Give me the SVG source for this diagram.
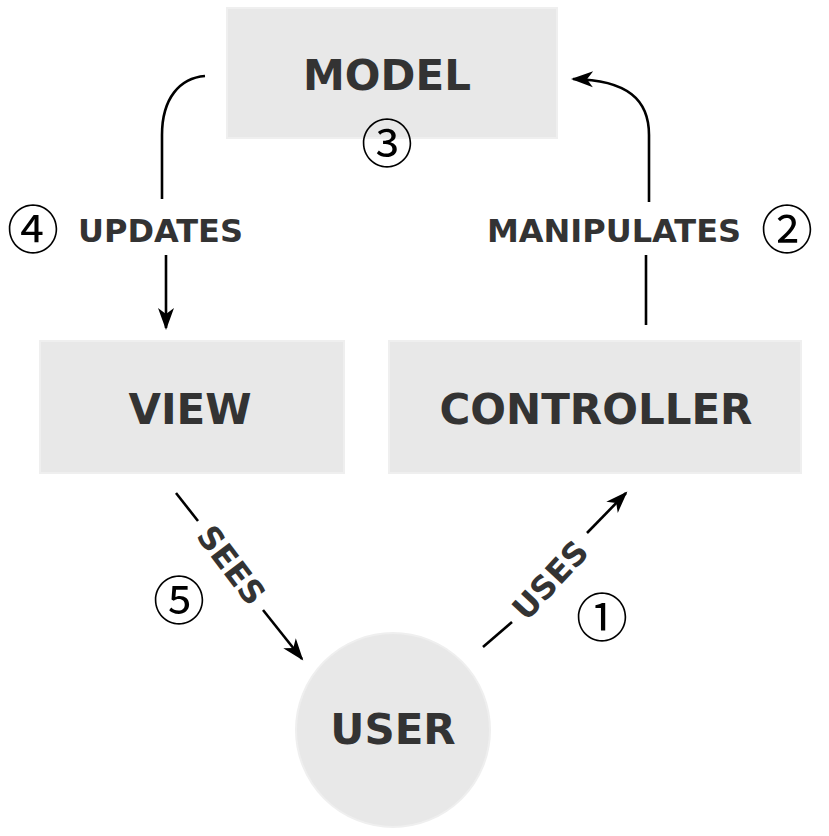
<svg xmlns="http://www.w3.org/2000/svg" width="829" height="836" viewBox="0 0 829 836">
<style>
.box{fill:#e8e8e8;stroke:#efefef;stroke-width:2}
.big{font-family:"DejaVu Sans","Liberation Sans",sans-serif;font-weight:bold;font-size:42px;fill:#333;text-anchor:middle}
.lbl{font-family:"DejaVu Sans","Liberation Sans",sans-serif;font-weight:bold;font-size:32px;fill:#333;text-anchor:middle}
.num{font-family:"Noto Sans CJK JP","Noto Sans CJK SC",sans-serif;font-size:52px;fill:#000;text-anchor:middle}
.ln{fill:none;stroke:#000;stroke-width:2.6}
</style>
<defs>
<marker id="ah" markerUnits="userSpaceOnUse" viewBox="-23 -9 25 18" markerWidth="25" markerHeight="18" refX="-2" refY="0" orient="auto">
<path d="M0,0 L-22,-8 L-16,0 L-22,8 Z" fill="#000"/>
</marker>
</defs>
<rect width="829" height="836" fill="#fff"/>
<g id="model">
<rect class="box" x="227" y="8" width="330" height="130"/>
<text class="big" x="387" y="90">MODEL</text>
<text class="num" x="387" y="163">③</text>
</g>
<g id="view">
<rect class="box" x="40" y="341" width="304" height="132"/>
<text class="big" x="190" y="424">VIEW</text>
</g>
<g id="controller">
<rect class="box" x="389" y="341" width="412" height="132"/>
<text class="big" x="596" y="424">CONTROLLER</text>
</g>
<g id="user">
<circle cx="393" cy="730" r="97" fill="#e8e8e8" stroke="#efefef" stroke-width="2"/>
<text class="big" x="393" y="744">USER</text>
</g>
<g id="connectors">
<path class="ln" d="M205,76 C180,78 162,98 162,135 L162,199"/>
<path class="ln" d="M166,255 L166,328" marker-end="url(#ah)"/>
<text class="lbl" x="160.5" y="242">UPDATES</text>
<text class="num" x="33" y="249">④</text>
<path class="ln" d="M646,325 L646,255"/>
<path class="ln" d="M649,202 L649,135 C649,100 628,80 573,79" marker-end="url(#ah)"/>
<text class="lbl" x="614" y="242">MANIPULATES</text>
<text class="num" x="787" y="249">②</text>
<path class="ln" d="M176,493 L198,521"/>
<path class="ln" d="M263,610 L302,659" marker-end="url(#ah)"/>
<text class="lbl" transform="translate(231.5,565) rotate(52.75)" x="0" y="11.5">SEES</text>
<text class="num" x="179" y="620">⑤</text>
<path class="ln" d="M483,647 L512,622"/>
<path class="ln" d="M587,533 L626,493" marker-end="url(#ah)"/>
<text class="lbl" transform="translate(550,580) rotate(-47)" x="0" y="11.5">USES</text>
<text class="num" x="602" y="637">①</text>
</g>
</svg>
